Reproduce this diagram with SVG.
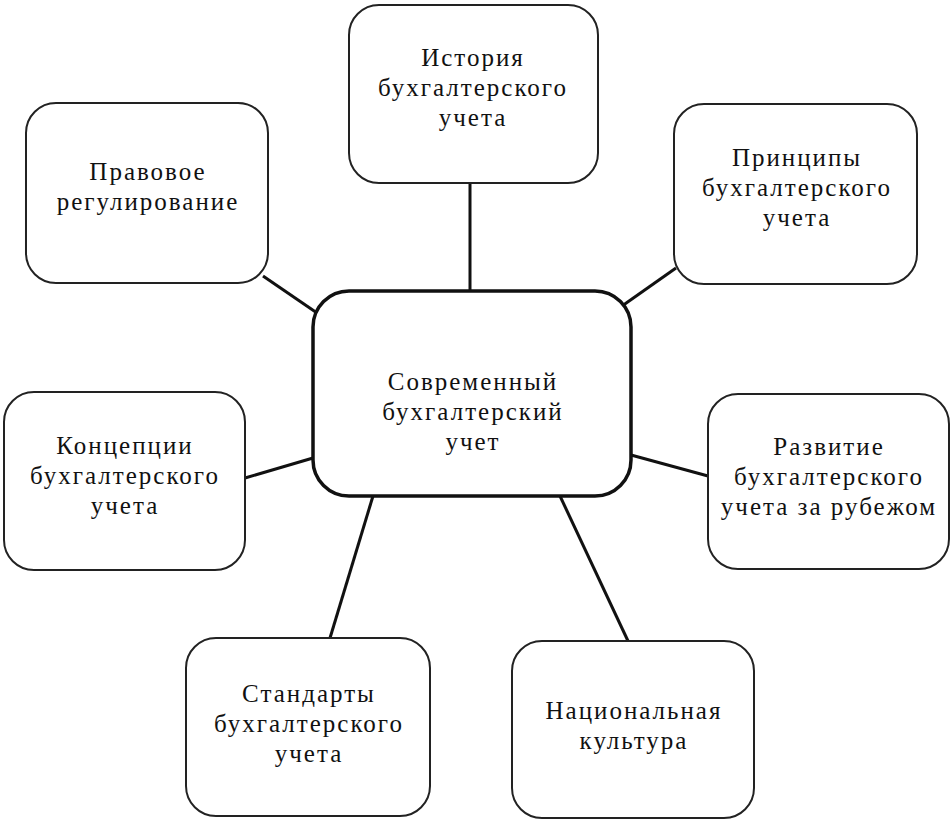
<svg xmlns="http://www.w3.org/2000/svg" width="952" height="822" viewBox="0 0 952 822">
<style>
.b{fill:#fff;stroke:#222;stroke-width:2}
.c{fill:#fff;stroke:#111;stroke-width:3.5}
.l{stroke:#111;stroke-width:3;fill:none}
text{font-family:"Liberation Serif",serif;font-size:25px;letter-spacing:2px;fill:#111;text-anchor:middle}
</style>
<rect width="952" height="822" fill="#fff"/>
<g id="connectors">
<line class="l" x1="470" y1="183" x2="470" y2="291"/>
<line class="l" x1="263" y1="276" x2="320" y2="315"/>
<line class="l" x1="676" y1="268" x2="622" y2="306"/>
<line class="l" x1="245" y1="478" x2="313" y2="458"/>
<line class="l" x1="708" y1="476" x2="631" y2="455"/>
<line class="l" x1="373" y1="496" x2="330" y2="638"/>
<line class="l" x1="560" y1="496" x2="628" y2="641"/>
</g>
<g id="center"><rect class="c" x="313" y="291" width="318" height="205" rx="36"/>
<text x="473" y="390">Современный</text><text x="473" y="420">бухгалтерский</text><text x="473" y="450">учет</text></g>
<g id="history"><rect class="b" x="349" y="5" width="249" height="178" rx="30"/>
<text x="473" y="66">История</text><text x="473" y="96">бухгалтерского</text><text x="473" y="126">учета</text></g>
<g id="pravo"><rect class="b" x="26" y="103" width="242" height="180" rx="30"/>
<text x="148" y="180">Правовое</text><text x="148" y="210">регулирование</text></g>
<g id="princ"><rect class="b" x="674" y="104" width="243" height="180" rx="30"/>
<text x="797" y="166">Принципы</text><text x="797" y="196">бухгалтерского</text><text x="797" y="226">учета</text></g>
<g id="konc"><rect class="b" x="4" y="392" width="241" height="178" rx="30"/>
<text x="125" y="454">Концепции</text><text x="125" y="484">бухгалтерского</text><text x="125" y="514">учета</text></g>
<g id="razv"><rect class="b" x="708" y="394" width="241" height="175" rx="30"/>
<text x="829" y="455">Развитие</text><text x="829" y="485">бухгалтерского</text><text x="829" y="515" letter-spacing="0.3">учета за рубежом</text></g>
<g id="stand"><rect class="b" x="186" y="638" width="244" height="178" rx="30"/>
<text x="309" y="702">Стандарты</text><text x="309" y="732">бухгалтерского</text><text x="309" y="762">учета</text></g>
<g id="nac"><rect class="b" x="512" y="641" width="242" height="177" rx="30"/>
<text x="634" y="719">Национальная</text><text x="634" y="749">культура</text></g>
</svg>
